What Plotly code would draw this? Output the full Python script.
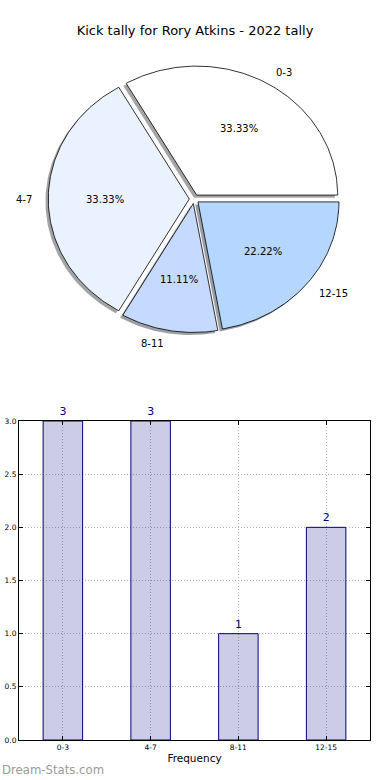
import numpy as np
import plotly.graph_objects as go

# ---------------- data ----------------
categories = ["0-3", "4-7", "8-11", "12-15"]
counts = [3, 3, 1, 2]
pie_colors = ["#ffffff", "#eaf2ff", "#c6d9ff", "#b4d6ff"]
title_text = "Kick tally for Rory Atkins - 2022 tally"
y_ticks = [0.0, 0.5, 1.0, 1.5, 2.0, 2.5, 3.0]
x_title = "Frequency"
watermark = "Dream-Stats.com"

# ---------------- style ----------------
FONT = "DejaVu Sans"
EXPLODE = 0.035
SHADOW_OFF = (-0.02, -0.02)
LABEL_DIST = 1.1
PCT_DIST = 0.6
W, H = 390, 780

fig = go.Figure()

# ---------------- pie (matplotlib-like wedges in data units) ----------------
total = float(sum(counts))
wedges = []
theta = 0.0
for cat, v, col in zip(categories, counts, pie_colors):
    t1 = theta
    t2 = theta + 360.0 * v / total
    theta = t2
    mid = np.deg2rad((t1 + t2) / 2.0)
    ox, oy = EXPLODE * np.cos(mid), EXPLODE * np.sin(mid)
    n = max(int(abs(t2 - t1)), 2) + 1
    angs = np.deg2rad(np.linspace(t1, t2, n))
    xs = np.concatenate([[ox], ox + np.cos(angs), [ox]])
    ys = np.concatenate([[oy], oy + np.sin(angs), [oy]])
    wedges.append((cat, v, col, mid, ox, oy, xs, ys))


def hex_to_rgb(h):
    h = h.lstrip("#")
    return tuple(int(h[i:i + 2], 16) for i in (0, 2, 4))


# shadows first
for cat, v, col, mid, ox, oy, xs, ys in wedges:
    r, g, b = hex_to_rgb(col)
    fig.add_trace(go.Scatter(
        x=xs + SHADOW_OFF[0], y=ys + SHADOW_OFF[1], mode="lines", fill="toself",
        fillcolor=f"rgba({int(r*0.3)},{int(g*0.3)},{int(b*0.3)},0.5)",
        line=dict(width=0, color="rgba(0,0,0,0)"),
        hoverinfo="skip", showlegend=False, xaxis="x2", yaxis="y2"))

annotations = []
for cat, v, col, mid, ox, oy, xs, ys in wedges:
    fig.add_trace(go.Scatter(
        x=xs, y=ys, mode="lines", fill="toself", fillcolor=col,
        line=dict(width=0.8, color="black"), name=cat,
        hoverinfo="name", showlegend=False, xaxis="x2", yaxis="y2"))
    xt = ox + LABEL_DIST * np.cos(mid)
    yt = oy + LABEL_DIST * np.sin(mid)
    annotations.append(dict(
        x=xt, y=yt, xref="x2", yref="y2", text=cat, showarrow=False,
        xanchor="left" if xt > 0 else "right", yanchor="middle",
        font=dict(family=FONT, size=10, color="black")))
    xp = ox + PCT_DIST * np.cos(mid)
    yp = oy + PCT_DIST * np.sin(mid)
    annotations.append(dict(
        x=xp, y=yp, xref="x2", yref="y2",
        text=f"{100.0 * v / total:.2f}%", showarrow=False,
        xanchor="center", yanchor="middle",
        font=dict(family=FONT, size=10, color="black")))

# ---------------- bar chart ----------------
fig.add_trace(go.Bar(
    x=categories, y=counts, width=0.45,
    marker=dict(color="rgba(0,0,128,0.2)", line=dict(color="navy", width=1)),
    text=[str(c) for c in counts], textposition="outside",
    textfont=dict(family=FONT, size=11, color="navy"),
    cliponaxis=False, showlegend=False, xaxis="x", yaxis="y"))

annotations.append(dict(
    x=0.0, y=1 - 770 / H, xref="paper", yref="paper", text=watermark,
    showarrow=False, xanchor="left", yanchor="middle",
    font=dict(family=FONT, size=11.7, color="#9a9a9a")))

# pie geometry in pixels
cx, cy, rx, ry = 194.2, 199.0, 141.0, 129.0

GRID = "#b4b4b4"
GRID_DASH = "1px,2px"

fig.update_layout(
    width=W, height=H,
    margin=dict(l=0, r=0, t=0, b=0, autoexpand=False),
    paper_bgcolor="white", plot_bgcolor="white",
    font=dict(family=FONT, color="black"),
    title=dict(text=title_text, x=0.5, xanchor="center",
               y=1 - 30 / H, yanchor="middle",
               font=dict(family=FONT, size=13, color="black")),
    showlegend=False,
    annotations=annotations,
    xaxis=dict(
        domain=[19 / W, 370 / W], type="category", range=[-0.5, 3.5],
        showline=True, linecolor="black", linewidth=1, mirror="ticks",
        ticks="inside", ticklen=4, tickcolor="black",
        showgrid=True, gridcolor=GRID, griddash=GRID_DASH, gridwidth=1,
        tickfont=dict(family=FONT, size=7.5, color="black"),
        title=dict(text=x_title, standoff=3,
                   font=dict(family=FONT, size=10.5, color="black")),
        automargin=False, fixedrange=True, anchor="y"),
    yaxis=dict(
        domain=[1 - 740 / H, 1 - 421 / H], range=[0, 3],
        tickvals=y_ticks, tickformat=".1f",
        showline=True, linecolor="black", linewidth=1, mirror="ticks",
        ticks="inside", ticklen=4, tickcolor="black",
        showgrid=True, gridcolor=GRID, griddash=GRID_DASH, gridwidth=1,
        zeroline=False,
        tickfont=dict(family=FONT, size=7.5, color="black"),
        automargin=False, fixedrange=True, anchor="x"),
    xaxis2=dict(
        domain=[0, 1], range=[-cx / rx, (W - cx) / rx], type="linear",
        visible=False, fixedrange=True, anchor="y2", automargin=False),
    yaxis2=dict(
        domain=[0.5, 1], range=[-(390 - cy) / ry, cy / ry], type="linear",
        visible=False, fixedrange=True, anchor="x2", automargin=False),
)

fig.write_html(
    "out.html",
    config={"displayModeBar": False},
    post_script="document.body.style.margin='0';document.body.style.padding='0';",
)
